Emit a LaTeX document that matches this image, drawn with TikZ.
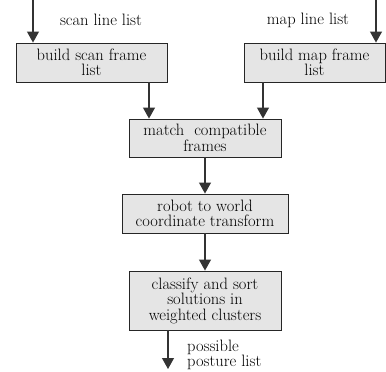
\documentclass[tikz,border=0pt]{standalone}
\usetikzlibrary{arrows.meta}
\begin{document}
\begin{tikzpicture}[x=1pt,y=-1pt,
  every node/.style={font=\fontsize{16.5}{15.5}\selectfont},
  procbox/.style={draw=black!85, line width=0.9pt, fill=black!10, align=center,
    inner sep=0pt},
  flow/.style={draw=black!80, line width=1.1pt, -{Triangle[width=12pt,length=11pt]}},
  lbl/.style={align=left, inner sep=0pt}]
  \useasboundingbox (0,0) rectangle (386,372);

  % process boxes
  \node[procbox, minimum width=151pt, minimum height=39pt] (scan) at (91.5,62.5) {build scan frame\\list};
  \node[procbox, minimum width=141pt, minimum height=39pt] (map) at (314.5,62.5) {build map frame\\list};
  \node[procbox, minimum width=152pt, minimum height=38pt] (match) at (205,138) {match\ \ compatible\\frames};
  \node[procbox, minimum width=166pt, minimum height=39pt] (robot) at (205,213.5) {robot to world\\coordinate transform};
  \node[procbox, minimum width=152pt, minimum height=59pt] (classify) at (205,300.5) {classify and sort\\solutions in\\weighted clusters};

  % free ends of the input/output flows
  \coordinate (scanin) at (33,0);
  \coordinate (mapin) at (376,0);
  \coordinate (postout) at (168,369);

  % labels
  \node[lbl] (scanlbl) at (101,20) {scan line list};
  \node[lbl] (maplbl) at (308,20) {map line list};
  \node[lbl, anchor=west] (postlbl) at (187,355) {possible\\posture list};

  % flows
  \draw[flow] (scanin) -- (scanin |- scan.north);
  \draw[flow] (mapin) -- (mapin |- map.north);
  \draw[flow] (scan.south -| 149,0) -- (match.north -| 149,0);
  \draw[flow] (map.south -| 263,0) -- (match.north -| 263,0);
  \draw[flow] (match) -- (robot);
  \draw[flow] (robot) -- (classify);
  \draw[flow] (classify.south -| postout) -- (postout);
\end{tikzpicture}
\end{document}
